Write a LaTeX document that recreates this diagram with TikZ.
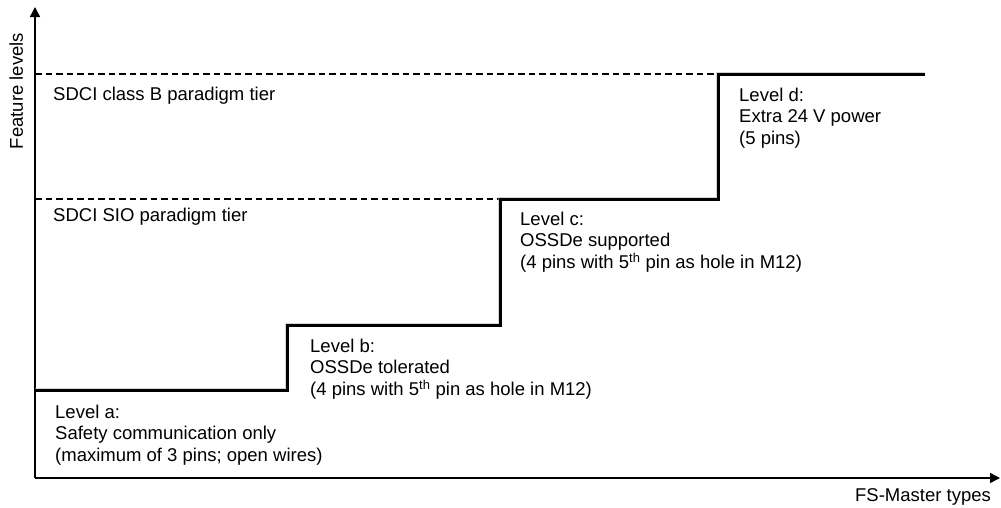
\documentclass[tikz,border=0pt]{standalone}
\usepackage{fontspec}
\setmainfont{Liberation Sans}
\usetikzlibrary{arrows.meta}
\begin{document}
\begin{tikzpicture}[x=1pt,y=-1pt,
  axis/.style={line width=1.5pt,-{Triangle[length=10pt,width=10pt]}},
  tier/.style={line width=1.4pt,dash pattern=on 6.5pt off 4pt},
  stair/.style={line width=3pt,line join=miter,line cap=butt},
  stairshadow/.style={line width=3.5pt,black!30,opacity=0.55},
  lbl/.style={anchor=base west,align=left,inner sep=0pt,font=\fontsize{18.5}{21.5}\selectfont},
  mlbl/.style={lbl,anchor=north west}]
\useasboundingbox (0,0) rectangle (1001,507);
% axes
\coordinate (O) at (35,478);
\coordinate (ytop) at (35,7);
\coordinate (xend) at (1000,478);
\draw[axis] (O) -- (ytop);
\draw[axis] (O) -- (xend);
% stair corners
\coordinate (a0) at (35,390);
\coordinate (a1) at (287,390);
\coordinate (b0) at (287,325);
\coordinate (b1) at (500,325);
\coordinate (c0) at (500,199);
\coordinate (c1) at (718,199);
\coordinate (d0) at (718,74);
\coordinate (d1) at (925,74);
% tier dashed lines
\coordinate (tB) at (35,74);
\coordinate (tS) at (35,199);
\draw[tier] (tB) -- (d0);
\draw[tier] (tS) -- (c0);
% stair with shadow
\draw[stairshadow,shift={(2.5,2.5)}] (a0) -- (a1) -- (b0) -- (b1) -- (c0) -- (c1) -- (d0) -- (d1);
\draw[stair] (a0) -- (a1) -- (b0) -- (b1) -- (c0) -- (c1) -- (d0) -- (d1);
% labels
\node[lbl] (tierB) at (53,100) {SDCI class B paradigm tier};
\node[lbl] (tierS) at (53,221) {SDCI SIO paradigm tier};
\node[mlbl] (la) at (55,404.7) {Level a:\\Safety communication only\\(maximum of 3 pins; open wires)};
\node[mlbl] (lb) at (310,338.7) {Level b:\\OSSDe tolerated\\(4 pins with 5\textsuperscript{th} pin as hole in M12)};
\node[mlbl] (lc) at (520,211.7) {Level c:\\OSSDe supported\\(4 pins with 5\textsuperscript{th} pin as hole in M12)};
\node[mlbl] (ld) at (739,87.7) {Level d:\\Extra 24 V power\\(5 pins)};
\node[lbl,anchor=base] (xl) at (923,501.5) {FS-Master types};
\node[lbl,anchor=base,rotate=90] (yl) at (23,91) {Feature levels};
\end{tikzpicture}
\end{document}
